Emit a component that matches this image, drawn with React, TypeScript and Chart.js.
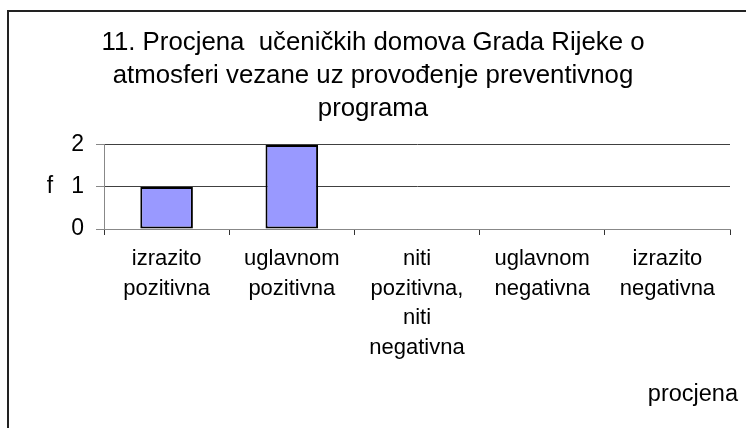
import React, { useEffect, useRef } from "react";
import { Chart, registerables } from "chart.js";

Chart.register(...registerables);

const titleLines = [
  "11. Procjena  učeničkih domova Grada Rijeke o",
  "atmosferi vezane uz provođenje preventivnog",
  "programa",
];
const categories = [
  ["izrazito", "pozitivna"],
  ["uglavnom", "pozitivna"],
  ["niti", "pozitivna,", "niti", "negativna"],
  ["uglavnom", "negativna"],
  ["izrazito", "negativna"],
];
const frequencies = [1, 2, 0, 0, 0];
const yTitle = "f";
const xTitle = "procjena";

const FONT = "'Liberation Sans', Arial, sans-serif";

const axisTitlePlugin = {
  id: "axisTitles",
  afterDraw(chart: any) {
    const { ctx, chartArea, scales } = chart;
    ctx.save();
    ctx.fillStyle = "#000";
    ctx.font = `23px ${FONT}`;
    ctx.textBaseline = "middle";
    ctx.textAlign = "center";
    ctx.fillText(yTitle, 50, scales.y.getPixelForValue(1));
    ctx.font = `23.5px ${FONT}`;
    ctx.textAlign = "right";
    ctx.fillText(xTitle, chartArea.right + 8, 395);
    ctx.restore();
  },
};

export default function App() {
  const ref = useRef<HTMLCanvasElement>(null);
  useEffect(() => {
    if (!ref.current) return;
    const chart = new Chart(ref.current, {
      type: "bar",
      data: {
        labels: categories,
        datasets: [
          {
            data: frequencies,
            backgroundColor: "#9999FF",
            borderColor: "#000000",
            borderWidth: 2,
            borderSkipped: false,
            categoryPercentage: 1,
            barPercentage: 0.42,
          },
        ],
      },
      options: {
        responsive: false,
        animation: false,
        devicePixelRatio: 1,
        layout: { padding: { left: 16, right: 16, top: 15, bottom: 0 } },
        plugins: {
          legend: { display: false },
          tooltip: { enabled: false },
          title: {
            display: true,
            text: titleLines,
            color: "#000",
            font: { family: FONT, size: 25.8, lineHeight: 1.279, weight: "normal" },
            padding: { top: 11, bottom: 20 },
          },
        },
        scales: {
          x: {
            offset: true,
            grid: {
              offset: true,
              drawOnChartArea: false,
              tickLength: 6,
              tickColor: "#333",
            },
            border: { color: "#888", width: 1 },
            ticks: {
              color: "#000",
              maxRotation: 0,
              autoSkip: false,
              padding: 9,
              font: { family: FONT, size: 22, lineHeight: 1.35 },
            },
            afterFit(scale: any) {
              scale.height = 199;
            },
          },
          y: {
            min: 0,
            max: 2,
            grid: { color: "#404040", tickLength: 8, tickColor: "#888" },
            border: { color: "#888", width: 1 },
            ticks: {
              stepSize: 1,
              color: "#000",
              padding: 12,
              font: { family: FONT, size: 23 },
            },
            afterFit(scale: any) {
              scale.width = 88;
            },
          },
        },
      },
      plugins: [axisTitlePlugin],
    });
    return () => chart.destroy();
  }, []);

  return (
    <div
      style={{
        position: "absolute",
        left: 0,
        top: 0,
        width: 746,
        height: 428,
        overflow: "hidden",
        background: "#fff",
      }}
    >
      <div
        style={{
          position: "absolute",
          left: 7,
          top: 10,
          width: 800,
          height: 500,
          borderTop: "2px solid #222",
          borderLeft: "2px solid #222",
        }}
      />
      <canvas
        ref={ref}
        width={746}
        height={428}
        style={{ position: "absolute", left: 0, top: 0 }}
      />
    </div>
  );
}
